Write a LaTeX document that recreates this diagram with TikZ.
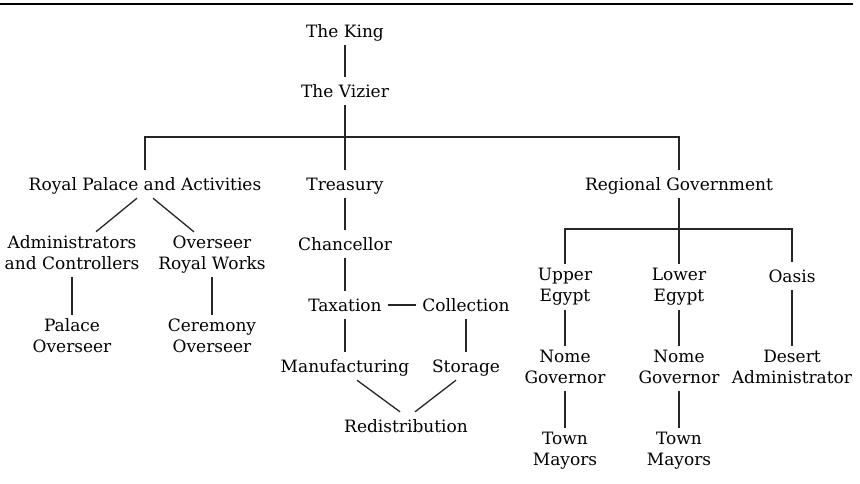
\documentclass[tikz,border=0pt]{standalone}
\usepackage{fontspec}
\setmainfont{DejaVu Serif}
\begin{document}
\begin{tikzpicture}[x=1pt,y=-1pt,
  lbl/.style={align=center, inner xsep=6pt, inner ysep=3.5pt,
    font=\fontsize{17}{21}\selectfont,
    execute at begin node={\rule{0pt}{16.7pt}},
    execute at end node={\rule[-4.3pt]{0pt}{4.3pt}}},
  conn/.style={line width=1.3pt, draw=black!85},
  rule/.style={line width=2pt}]
\useasboundingbox (0,0) rectangle (860,483);
\draw[rule] (0,3.5) -- (853,3.5);
\node[lbl] (king) at (345,31) {The King};
\node[lbl] (vizier) at (345,91) {The Vizier};
\node[lbl] (royal) at (145,184) {Royal Palace and Activities};
\node[lbl] (treasury) at (345,184) {Treasury};
\node[lbl] (regional) at (679,184) {Regional Government};
\node[lbl] (admin) at (72,254.5) {Administrators\\and Controllers};
\node[lbl] (overseer) at (212,254.5) {Overseer\\Royal Works};
\node[lbl] (palace) at (72,337.5) {Palace\\Overseer};
\node[lbl] (ceremony) at (212,337.5) {Ceremony\\Overseer};
\node[lbl] (chancellor) at (345,244) {Chancellor};
\node[lbl] (taxation) at (345,305) {Taxation};
\node[lbl] (collection) at (466,305) {Collection};
\node[lbl] (manufacturing) at (345,366) {Manufacturing};
\node[lbl] (storage) at (466,366) {Storage};
\node[lbl] (redistribution) at (406,426) {Redistribution};
\node[lbl] (upper) at (565,287) {Upper\\Egypt};
\node[lbl] (lower) at (679,287) {Lower\\Egypt};
\node[lbl] (oasis) at (792,276) {Oasis};
\node[lbl] (nomeU) at (565,368.5) {Nome\\Governor};
\node[lbl] (nomeL) at (679,368.5) {Nome\\Governor};
\node[lbl] (desert) at (792,368.5) {Desert\\Administrator};
\node[lbl] (townU) at (565,450.5) {Town\\Mayors};
\node[lbl] (townL) at (679,450.5) {Town\\Mayors};
\coordinate (bus1) at (345,137);
\coordinate (bus2) at (679,229);
\draw[conn] (king) -- (vizier);
\draw[conn] (vizier) -- (treasury);
\draw[conn] (royal.north) |- (bus1) -| (regional.north);
\draw[conn] ([xshift=-8pt]royal.south) -- ([xshift=24pt]admin.north);
\draw[conn] ([xshift=8pt]royal.south) -- ([xshift=-18pt]overseer.north);
\draw[conn] (admin) -- (palace);
\draw[conn] (overseer) -- (ceremony);
\draw[conn] (treasury) -- (chancellor);
\draw[conn] (chancellor) -- (taxation);
\draw[conn] (taxation) -- (collection);
\draw[conn] (taxation) -- (manufacturing);
\draw[conn] (collection) -- (storage);
\draw[conn] ([xshift=12pt]manufacturing.south) -- ([xshift=-6pt]redistribution.north);
\draw[conn] ([xshift=-10pt]storage.south) -- ([xshift=9pt]redistribution.north);
\draw[conn] (regional) -- (lower);
\draw[conn] (upper.north) |- (bus2) -| (oasis.north);
\draw[conn] (upper) -- (nomeU);
\draw[conn] (lower) -- (nomeL);
\draw[conn] (oasis) -- (desert);
\draw[conn] (nomeU) -- (townU);
\draw[conn] (nomeL) -- (townL);
\end{tikzpicture}
\end{document}
